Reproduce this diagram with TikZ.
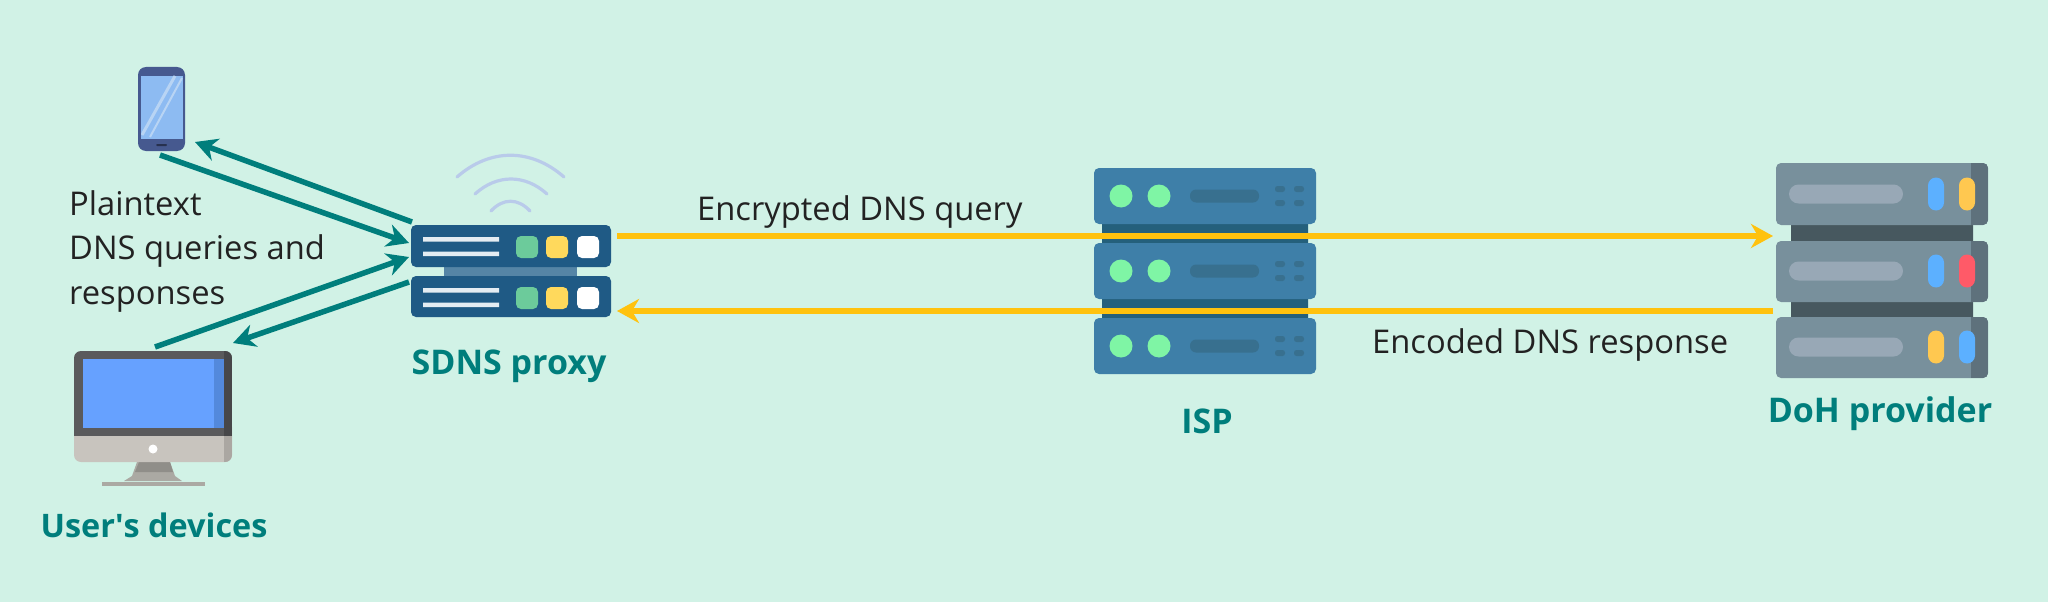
\documentclass[tikz,border=0pt]{standalone}
\usepackage{fontspec}
\setmainfont{Open Sans}
\newfontfamily\straightfont{Open Sans}[Ligatures=ResetAll]
\usetikzlibrary{arrows.meta}
\definecolor{bgc}{HTML}{D1F2E6}
\definecolor{tealc}{HTML}{007E7C}
\definecolor{yelc}{HTML}{FFC20E}
\definecolor{txtc}{HTML}{222222}
\definecolor{prox}{HTML}{1F5A85}
\definecolor{proxlink}{HTML}{5585A6}
\definecolor{proxline}{HTML}{E4ECF2}
\definecolor{gsq}{HTML}{6CCB9B}
\definecolor{ysq}{HTML}{FFD95C}
\definecolor{wifi}{HTML}{B9CBEA}
\definecolor{ispb}{HTML}{3E7FA8}
\definecolor{ispd}{HTML}{24607C}
\definecolor{ispbar}{HTML}{38708F}
\definecolor{ispg}{HTML}{7FF5A5}
\definecolor{dohb}{HTML}{78909C}
\definecolor{dohs}{HTML}{5E717C}
\definecolor{dohd}{HTML}{47585F}
\definecolor{dohbar}{HTML}{98A8B6}
\definecolor{pblue}{HTML}{5CB0FF}
\definecolor{pyel}{HTML}{FFC850}
\definecolor{pred}{HTML}{FF5A68}
\definecolor{phoneb}{HTML}{46598F}
\definecolor{phones}{HTML}{8DBBF2}
\definecolor{phonel}{HTML}{B8D4F4}
\definecolor{monb}{HTML}{5A5A5C}
\definecolor{monbd}{HTML}{474749}
\definecolor{mons}{HTML}{66A1FF}
\definecolor{monsd}{HTML}{5389DC}
\definecolor{monc}{HTML}{C8C4BE}
\definecolor{moncd}{HTML}{ABA7A2}
\definecolor{stand}{HTML}{ABA9A3}
\definecolor{standd}{HTML}{908E89}
\tikzset{
  teal arrow/.style={draw=tealc,line width=5.5pt,-{Stealth[length=22pt,width=23pt,inset=7pt]}},
  yellow arrow/.style={draw=yelc,line width=5.5pt,-{Stealth[length=22pt,width=24pt,inset=7pt]}},
  note/.style={anchor=base west,inner sep=0pt,text=txtc,font=\fontsize{32.7}{44}\selectfont},
  tag/.style={anchor=center,inner sep=0pt,text=tealc,font=\fontsize{34}{40}\selectfont\bfseries},
  wave/.style={draw=wifi,line width=3.2pt,line cap=round},
  panel/.style={rounded corners=5pt},
}
\newcommand{\ispunit}[1]{%
  \begin{scope}[shift={(0,#1)}]
    \fill[ispb,panel] (1094,168) rectangle (1316,224);
    \fill[ispg] (1121,196) circle (11.5) (1159,196) circle (11.5);
    \fill[ispbar,rounded corners=6pt] (1190,189.5) rectangle (1259,202.5);
    \fill[ispbar,rounded corners=2.5pt] (1275,186) rectangle (1285,192) (1294,186) rectangle (1304,192)
      (1275,200) rectangle (1285,206) (1294,200) rectangle (1304,206);
  \end{scope}}
\newcommand{\dohunit}[5]{%
  \fill[dohb,panel] (1776,#1) rectangle (1988,#2);
  \begin{scope}
    \clip[panel] (1776,#1) rectangle (1988,#2);
    \fill[dohs] (1971,#1) rectangle (1988,#2);
  \end{scope}
  \fill[dohbar,rounded corners=9.5pt] (1789,#3-9.5) rectangle (1903,#3+9.5);
  \fill[#4,rounded corners=8pt] (1928,#3-16.5) rectangle (1944,#3+16.5);
  \fill[#5,rounded corners=8pt] (1959,#3-16.5) rectangle (1975,#3+16.5);}
\newcommand{\proxunit}[2]{%
  \fill[prox,panel] (411,#1) rectangle (611,#2);
  \fill[proxline] (423,#1+12) rectangle (499,#1+16.5) (423,#1+26.5) rectangle (499,#1+31);
  \fill[gsq,rounded corners=5pt] (516,#1+11) rectangle (538,#1+33);
  \fill[ysq,rounded corners=5pt] (546,#1+11) rectangle (568,#1+33);
  \fill[white,rounded corners=5pt] (577,#1+11) rectangle (599,#1+33);}
\begin{document}
\begin{tikzpicture}[x=1pt,y=-1pt]
\useasboundingbox (0,0) rectangle (2048,602);
\fill[bgc] (0,0) rectangle (2048,602);

% phone
\fill[phoneb,rounded corners=8pt] (138,67) rectangle (185,151);
\fill[phones] (141,76) rectangle (183,139);
\begin{scope}
  \clip (141,76) rectangle (183,139);
  \draw[phonel,line width=3pt] (175,76) -- (142,135);
  \draw[phonel,line width=2pt] (182,78) -- (150,137);
\end{scope}
\fill[black!45!phoneb,rounded corners=1pt] (156,144) rectangle (167,146);

% monitor
\fill[stand] (137,462) -- (170,462) -- (175,476) -- (182,481) -- (124,481) -- (132,476) -- cycle;
\fill[standd] (139,462) -- (170,462) -- (173,472) -- (163,472) -- (135,472) -- cycle;
\fill[stand] (102,482) rectangle (205,486);
\fill[monc,rounded corners=7pt] (74,420) rectangle (232,462);
\begin{scope}
  \clip[rounded corners=7pt] (74,420) rectangle (232,462);
  \fill[moncd] (224,436) rectangle (232,462);
\end{scope}
\begin{scope}
  \clip[rounded corners=7pt] (74,351) rectangle (232,460);
  \fill[monb] (74,351) rectangle (232,436);
  \fill[monbd] (224,351) rectangle (232,436);
\end{scope}
\fill[mons] (83,359) rectangle (214,428);
\fill[monsd] (214,359) rectangle (224,428);
\fill[white] (153,449) circle (4.5);

% proxy
\fill[proxlink] (444,265) rectangle (577,278);
\proxunit{225}{267}
\proxunit{276}{317}
\draw[wave] (457,177) .. controls (490,148) and (531,148) .. (564,177);
\draw[wave] (475,194) .. controls (497,174) and (525,174) .. (547,194);
\draw[wave] (491,211) .. controls (503,198) and (518,198) .. (530,211);

% ISP
\fill[ispd] (1102,222) rectangle (1308,245) (1102,297) rectangle (1308,320);
\ispunit{0}
\ispunit{75}
\ispunit{150}

% DoH
\fill[dohd] (1791,223) rectangle (1973,243) (1791,300) rectangle (1973,319);
\dohunit{163}{225}{194}{pblue}{pyel}
\dohunit{241}{302}{271}{pblue}{pred}
\dohunit{317}{378}{347}{pyel}{pblue}

% connector ends
\coordinate (phoneIn) at (195,142);
\coordinate (phoneOut) at (160,155);
\coordinate (pcOut) at (155,347);
\coordinate (pcIn) at (233,343);
\coordinate (proxA) at (412,222);
\coordinate (proxB) at (409,243);
\coordinate (proxC) at (409,257);
\coordinate (proxD) at (409,282);
\coordinate (proxE) at (617,236);
\coordinate (proxF) at (617,311);
\coordinate (dohA) at (1773,236);
\coordinate (dohB) at (1773,311);

\draw[teal arrow] (proxA) -- (phoneIn);
\draw[teal arrow] (phoneOut) -- (proxB);
\draw[teal arrow] (pcOut) -- (proxC);
\draw[teal arrow] (proxD) -- (pcIn);
\draw[yellow arrow] (proxE) -- (dohA);
\draw[yellow arrow] (dohB) -- (proxF);

% labels
\node[note] (pl1) at (69,215) {Plaintext};
\node[note] (pl2) at (69,259) {DNS queries and};
\node[note] (pl3) at (69,304) {responses};
\node[note] (enc) at (697,220) {Encrypted DNS query};
\node[note] (res) at (1372,353) {Encoded DNS response};
\node[tag,font=\fontsize{32.4}{40}\selectfont\bfseries] (tagU) at (154,525) {User{\straightfont\bfseries '}s devices};
\node[tag] (tagS) at (509,366) {SDNS proxy};
\node[tag] (tagI) at (1207,421) {ISP};
\node[tag] (tagD) at (1880,414) {DoH provider};
\end{tikzpicture}
\end{document}
